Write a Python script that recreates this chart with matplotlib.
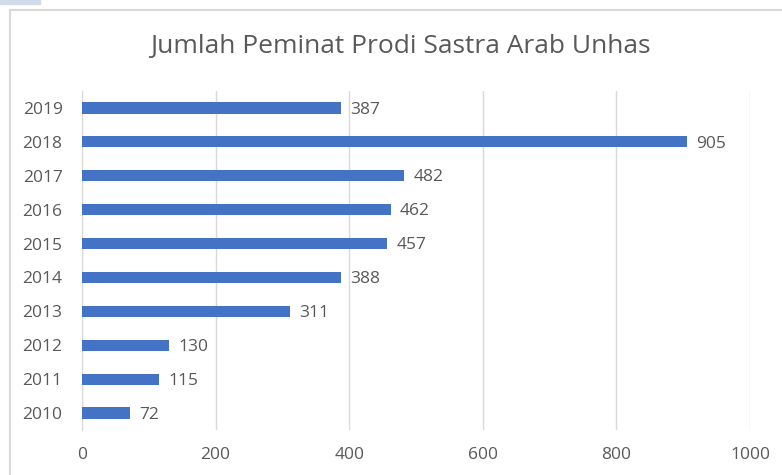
import matplotlib.pyplot as plt
from matplotlib.lines import Line2D
from matplotlib.patches import Rectangle

plt.rcParams['font.family'] = ['Open Sans', 'DejaVu Sans']

years = ['2010', '2011', '2012', '2013', '2014', '2015', '2016', '2017', '2018', '2019']
peminat = [72, 115, 130, 311, 388, 457, 462, 482, 905, 387]
xticks = [0, 200, 400, 600, 800, 1000]

W, H = 782, 475
fig = plt.figure(figsize=(W / 100, H / 100), dpi=100)
ax = fig.add_axes([82 / W, 1 - 430 / H, (750 - 82) / W, (430 - 91) / H])

bar_color = '#4472C4'
txt_color = '#595959'
grid_color = '#D9D9D9'

pos = range(len(years))
ax.barh(pos, peminat, height=0.33, color=bar_color, zorder=3)
for i, v in zip(pos, peminat):
    ax.text(v + 14, i - 0.05, str(v), va='center', ha='left', fontsize=12.5, color=txt_color)

ax.set_xlim(0, 1000)
ax.set_ylim(-0.5, len(years) - 0.5)
ax.set_yticks(list(pos))
ax.set_yticklabels(years)
ax.set_xticks(xticks)
ax.set_xticklabels([str(t) for t in xticks])
ax.tick_params(axis='both', length=0, labelsize=12.5, colors=txt_color)
ax.tick_params(axis='y', pad=14)
ax.tick_params(axis='x', pad=12)
ax.xaxis.grid(True, color=grid_color, linewidth=1, zorder=0)
for s in ['top', 'right', 'bottom']:
    ax.spines[s].set_visible(False)
ax.spines['left'].set_color(grid_color)

fig.text(400 / W, 1 - 47 / H, 'Jumlah Peminat Prodi Sastra Arab Unhas',
         ha='center', va='center', fontsize=19, color=txt_color)

# chart border (partially cropped) and small blue strip top-left
fig.add_artist(Line2D([10 / W, 10 / W], [0, 1 - 10 / H], color=grid_color, lw=1.5))
fig.add_artist(Line2D([10 / W, 1], [1 - 10 / H, 1 - 10 / H], color=grid_color, lw=1.5))
fig.add_artist(Rectangle((0, 1 - 4 / H), 40 / W, 4 / H, color='#D0DCEA', transform=fig.transFigure))

fig.savefig('out.png', dpi=100)
